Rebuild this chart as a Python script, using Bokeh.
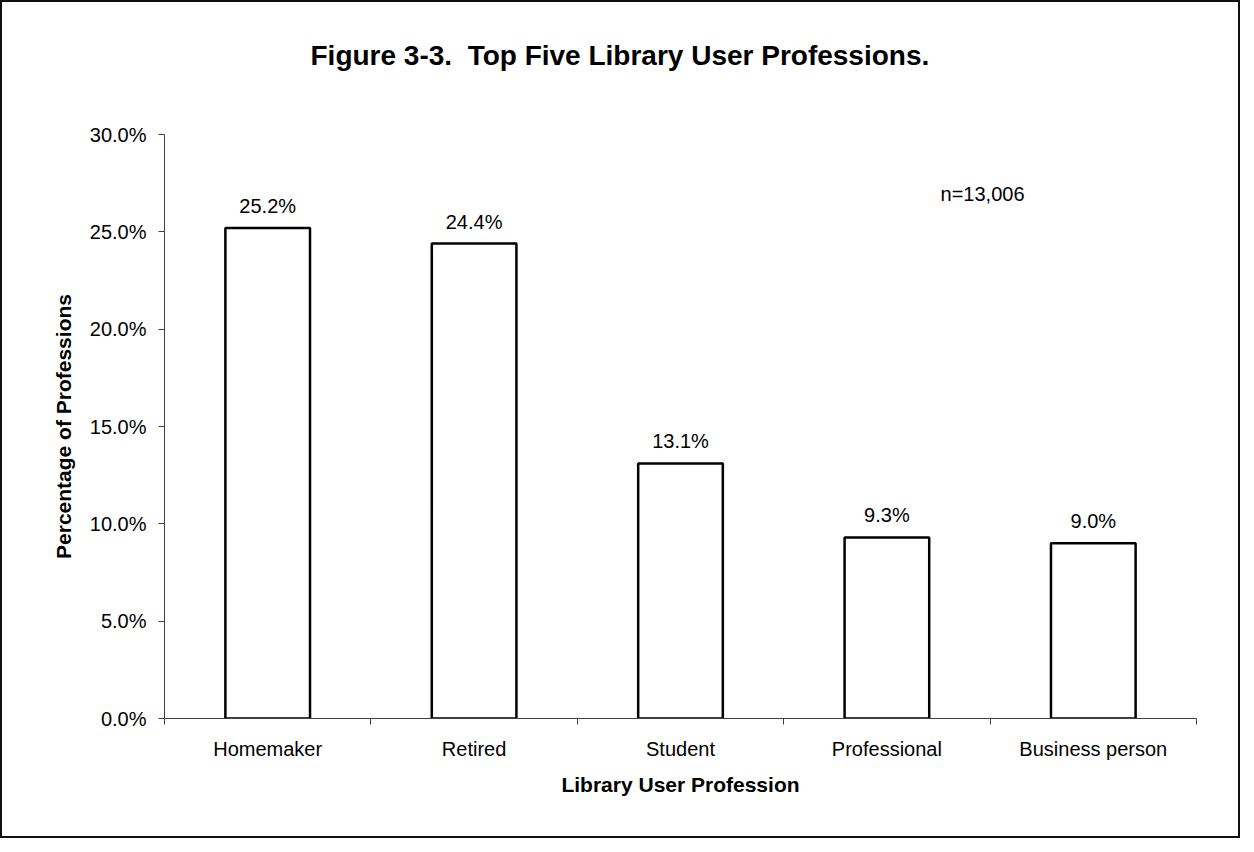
from bokeh.plotting import figure
from bokeh.models import Range1d, FixedTicker, NumeralTickFormatter, Title, Label, ColumnDataSource
from bokeh.embed import file_html
from bokeh.resources import INLINE
from bokeh.core.properties import value

categories = ["Homemaker", "Retired", "Student", "Professional", "Business person"]
shares = [0.252, 0.244, 0.131, 0.093, 0.090]
y_ticks = [0.0, 0.05, 0.10, 0.15, 0.20, 0.25, 0.30]
sample_note = "n=13,006"
title_text = "Figure 3-3.\u00a0 Top Five Library User Professions."
x_title = "Library User Profession"
y_title = "Percentage of Professions"

FONT = "Liberation Sans"
AXIS_COLOR = "#404040"

positions = [i + 0.5 for i in range(len(categories))]
boundaries = list(range(len(categories) + 1))
labels = [f"{v * 100:.1f}%" for v in shares]
src = ColumnDataSource(dict(x=positions, top=shares, label=labels))

p = figure(width=1240, height=838, output_backend="svg", toolbar_location=None,
           x_range=Range1d(0, len(categories)), y_range=Range1d(0, 0.30),
           min_border_left=162, min_border_right=46, min_border_top=132,
           min_border_bottom=122)
p.styles = {"border": "2px solid #111111"}
p.outline_line_color = None
p.xgrid.visible = False
p.ygrid.visible = False
p.background_fill_color = "white"
p.border_fill_color = "white"

# title: a trailing blank line reserves room so the heading sits high above the frame
t = Title(text=title_text + "\n\u00a0", align="left", offset=146, standoff=62,
          vertical_align="top",
          text_font=FONT, text_font_size="28px", text_font_style="bold",
          text_color="black")
p.add_layout(t, "above")

p.vbar(x="x", top="top", bottom=0, width=0.41, source=src,
       fill_color="white", line_color="black", line_width=2.5)

p.text(x="x", y="top", text="label", source=src, text_align="center",
       text_baseline="alphabetic", y_offset=-22, text_font=value(FONT),
       text_font_size="20px", text_color="black")

p.add_layout(Label(x=3.76, y=0.2656, y_offset=7, text=sample_note, text_align="left",
                   text_baseline="alphabetic", text_font=FONT,
                   text_font_size="20px", text_color="black"))

xa = p.xaxis[0]
xa.ticker = FixedTicker(ticks=positions, minor_ticks=boundaries)
xa.major_label_overrides = {pos: name for pos, name in zip(positions, categories)}
xa.major_tick_in = 0
xa.major_tick_out = 0
xa.minor_tick_in = 0
xa.minor_tick_out = 6
xa.minor_tick_line_color = AXIS_COLOR
xa.axis_line_color = AXIS_COLOR
xa.major_label_standoff = 13
xa.major_label_text_font = FONT
xa.major_label_text_font_size = "20px"
xa.major_label_text_color = "black"
xa.axis_label = x_title
xa.axis_label_text_font = FONT
xa.axis_label_text_font_size = "21px"
xa.axis_label_text_font_style = "bold"
xa.axis_label_text_color = "black"
xa.axis_label_standoff = 10

ya = p.yaxis[0]
ya.ticker = FixedTicker(ticks=y_ticks)
ya.formatter = NumeralTickFormatter(format="0.0%")
ya.major_tick_in = 0
ya.major_tick_out = 6
ya.minor_tick_line_color = None
ya.major_tick_line_color = AXIS_COLOR
ya.axis_line_color = AXIS_COLOR
ya.major_label_standoff = 12
ya.major_label_text_font = FONT
ya.major_label_text_font_size = "20px"
ya.major_label_text_color = "black"
ya.axis_label = y_title
ya.axis_label_text_font = FONT
ya.axis_label_text_font_size = "21px"
ya.axis_label_text_font_style = "bold"
ya.axis_label_text_color = "black"
ya.axis_label_standoff = 12

open("out.html", "w").write(file_html(p, INLINE))
